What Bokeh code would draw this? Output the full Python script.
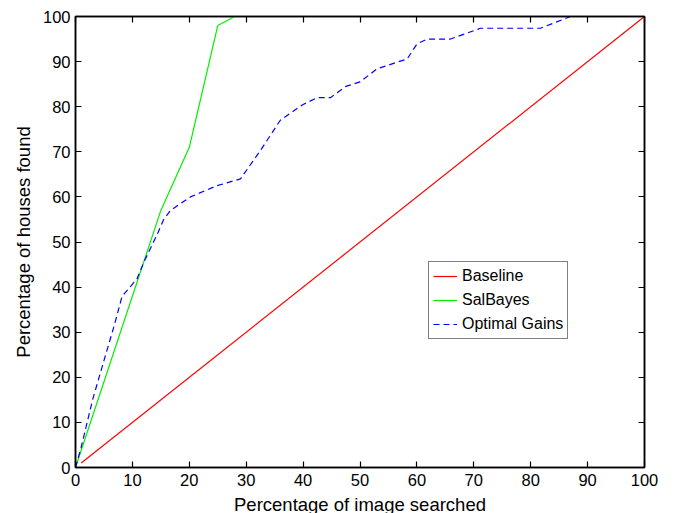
from bokeh.plotting import figure
from bokeh.models import Range1d, LinearAxis, Legend, LegendItem, FixedTicker, CustomJSTickFormatter
from bokeh.embed import file_html
from bokeh.resources import INLINE

# Data
baseline_x = [1, 100]
baseline_y = [1, 100]
salbayes_x = [0, 15, 20, 25, 28]
salbayes_y = [0, 57, 71, 98, 100]
optimal_x = [0, 1, 3, 5, 6.7, 8.2, 10.8, 12, 14.4, 15.5, 16.7, 19, 20.2, 24.9, 29, 32.5, 36, 40,
             42.5, 44.8, 47.5, 50, 53, 58.3, 60, 61.8, 65.9, 71.2, 81.7, 87, 100]
optimal_y = [0, 4.5, 15, 23.7, 31, 38, 41.8, 45.5, 51.8, 55, 57, 59, 60, 62.5, 64, 70.3, 77, 80.5,
             82, 82, 84.5, 85.5, 88.4, 90.6, 93.9, 95, 95, 97.4, 97.4, 100, 100]
ticks = [0, 10, 20, 30, 40, 50, 60, 70, 80, 90, 100]

FONT = "Liberation Sans"

p = figure(width=675, height=513, output_backend="svg", toolbar_location=None,
           x_range=Range1d(0, 100), y_range=Range1d(0, 100),
           min_border_left=75, min_border_right=31, min_border_top=16, min_border_bottom=46)
p.frame_width = 569
p.frame_height = 451
p.xgrid.visible = False
p.ygrid.visible = False
p.outline_line_color = "black"
p.outline_line_width = 1.5
p.background_fill_color = "white"
p.border_fill_color = "white"

r1 = p.line(baseline_x, baseline_y, line_color="#ff0000", line_width=1.2)
r2 = p.line(salbayes_x, salbayes_y, line_color="#00f000", line_width=1.2)
r3 = p.line(optimal_x, optimal_y, line_color="#0000ff", line_width=1.2, line_dash="6 4")

def style_axis(ax, labels=True):
    ax.ticker = FixedTicker(ticks=ticks)
    ax.minor_tick_line_color = None
    ax.major_tick_in = 6
    ax.major_tick_out = 0
    ax.axis_line_color = "black"
    ax.axis_line_width = 1.5
    ax.major_tick_line_color = "black"
    ax.major_tick_line_width = 1.2
    ax.major_label_text_font = FONT
    ax.major_label_text_font_size = "16.5px"
    ax.major_label_text_color = "black"
    ax.axis_label_text_font = FONT
    ax.axis_label_text_font_size = "18.5px"
    ax.axis_label_text_font_style = "normal"
    ax.axis_label_text_color = "black"
    if not labels:
        ax.major_label_text_font_size = "0px"
        ax.major_label_standoff = 0

style_axis(p.xaxis[0])
style_axis(p.yaxis[0])
p.xaxis[0].axis_label = "Percentage of image searched"
p.yaxis[0].axis_label = "Percentage of houses found"
p.xaxis[0].major_label_standoff = 6
p.yaxis[0].major_label_standoff = 5
p.xaxis[0].axis_label_standoff = 5
p.yaxis[0].axis_label_standoff = 6

top = LinearAxis()
right = LinearAxis()
style_axis(top, labels=False)
style_axis(right, labels=False)
top.formatter = CustomJSTickFormatter(code="return ''")
right.formatter = CustomJSTickFormatter(code="return ''")
p.add_layout(top, "above")
p.add_layout(right, "right")

legend = Legend(items=[LegendItem(label="Baseline", renderers=[r1]),
                       LegendItem(label="SalBayes", renderers=[r2]),
                       LegendItem(label="Optimal Gains", renderers=[r3])],
                location=(353, 128))
legend.border_line_color = "black"
legend.border_line_width = 1.2
legend.label_text_font = FONT
legend.label_text_font_size = "16px"
legend.label_text_color = "black"
legend.glyph_width = 24
legend.glyph_height = 20
legend.label_height = 20
legend.label_standoff = 5
legend.spacing = 4
legend.padding = 4
legend.margin = 0
legend.background_fill_color = "white"
p.add_layout(legend, "center")

open("out.html", "w").write(file_html(p, INLINE))
